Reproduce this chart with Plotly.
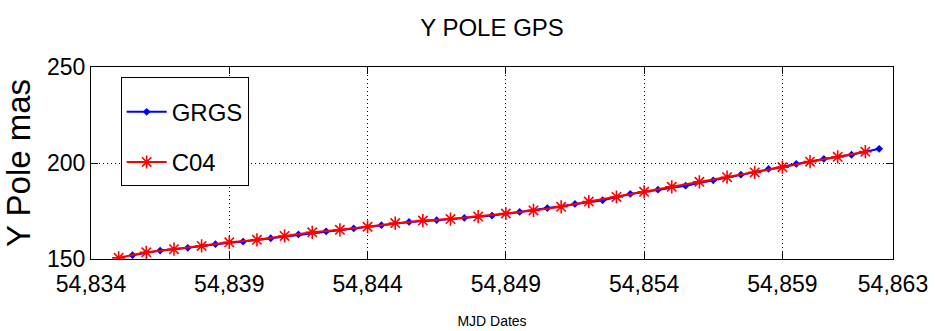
import plotly.graph_objects as go

# C04 series: daily values (MJD integer days)
c04_mjd = list(range(54835, 54863))
c04_y = [150.6, 153.5, 155.1, 156.8, 158.7, 160.0, 162.0, 163.9, 165.2, 166.8,
         168.7, 170.0, 170.8, 172.1, 173.7, 175.3, 177.2, 179.9, 182.3, 185.0,
         187.6, 190.2, 192.6, 195.1, 197.8, 200.7, 203.2, 205.9]

# GRGS series: half-day offset values
grgs_mjd = [d + 0.5 for d in range(54835, 54863)]
grgs_y = [152.0, 154.4, 155.8, 157.7, 159.1, 160.8, 162.8, 164.4, 165.9, 167.6,
          169.3, 170.2, 171.4, 172.6, 174.5, 176.5, 178.7, 180.6, 183.9, 186.1,
          188.2, 191.0, 193.9, 196.9, 199.5, 202.1, 204.3, 207.4]

x_tickvals = [54834, 54839, 54844, 54849, 54854, 54859, 54863]
x_ticktext = ["54,834", "54,839", "54,844", "54,849", "54,854", "54,859", "54,863"]
y_tickvals = [150, 200, 250]
y_ticktext = ["150", "200", "250"]

regular = "Liberation Sans, Arial, sans-serif"

fig = go.Figure()
fig.add_trace(go.Scatter(
    x=grgs_mjd, y=grgs_y, name="GRGS", mode="lines+markers",
    line=dict(color="#0000ff", width=2),
    marker=dict(symbol="diamond", size=6, color="#0000ff"),
    legendgroup="a",
))
fig.add_trace(go.Scatter(
    x=c04_mjd, y=c04_y, name="C04", mode="lines+markers",
    line=dict(color="#ff0000", width=2),
    marker=dict(symbol="asterisk-open", size=11, color="#ff0000",
                line=dict(color="#ff0000", width=1.6)),
    legendgroup="b",
))

axis_common = dict(
    showline=True, linecolor="black", linewidth=1, mirror="ticks",
    ticks="inside", ticklen=7, tickcolor="black", tickwidth=1,
    showgrid=True, gridcolor="black", gridwidth=1, griddash="1px,3px",
    zeroline=False, automargin=False,
    tickfont=dict(family=regular, size=23, color="black"),
)

fig.update_layout(
    width=935, height=331,
    margin=dict(l=91, r=42, t=67, b=72),
    paper_bgcolor="white", plot_bgcolor="white",
    title=dict(text="Y POLE GPS", x=0.5, xref="paper", xanchor="center",
               y=1 - 28 / 331, yref="container", yanchor="middle",
               font=dict(family=regular, size=24, color="black")),
    xaxis=dict(range=[54834, 54863], tickmode="array", tickvals=x_tickvals,
               ticktext=x_ticktext, ticklabelstandoff=4,
               title=dict(text="MJD Dates", standoff=20,
                          font=dict(family=regular, size=14, color="black")),
               **axis_common),
    yaxis=dict(range=[150, 250], tickmode="array", tickvals=y_tickvals,
               ticktext=y_ticktext,
               title=dict(text="Y Pole mas", standoff=6,
                          font=dict(family=regular, size=33, color="black")),
               **axis_common),
    legend=dict(x=0.037, y=0.948, xanchor="left", yanchor="top",
                bgcolor="white", bordercolor="black", borderwidth=1,
                font=dict(family=regular, size=24, color="black"),
                title=dict(text=" ", font=dict(size=9)),
                traceorder="grouped", tracegroupgap=16, itemwidth=40),
    showlegend=True,
)

fig.write_html("out.html")
